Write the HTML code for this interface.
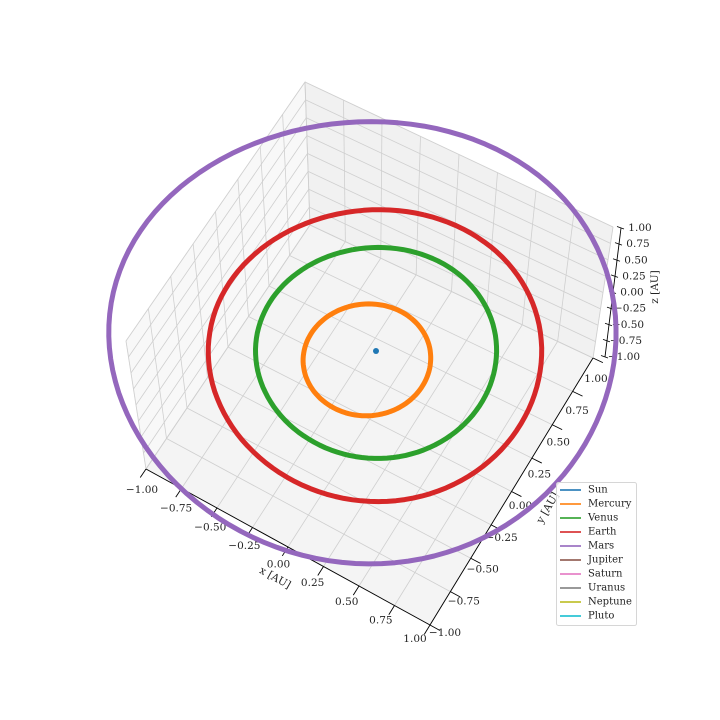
<!DOCTYPE html>
<html><head><meta charset="utf-8"><style>
html,body{margin:0;padding:0;background:#fff}
svg{display:block;font-family:"DejaVu Serif","Liberation Serif",serif}
</style></head><body>
<svg id="chart" width="720" height="720" viewBox="0 0 720 720" xmlns="http://www.w3.org/2000/svg">
<g id="panes"></g>
<g id="grid"></g>
<g id="axes"></g>
<g id="orbits"></g>
<g id="legend"></g>
</svg>
<script>
const tickValues = [-1, -0.75, -0.5, -0.25, 0, 0.25, 0.5, 0.75, 1];
const tickLabels = ["\u22121.00","\u22120.75","\u22120.50","\u22120.25","0.00","0.25","0.50","0.75","1.00"];
const planetNames = ["Sun","Mercury","Venus","Earth","Mars","Jupiter","Saturn","Uranus","Neptune","Pluto"];
const planetColors = ["#1f77b4","#ff7f0e","#2ca02c","#d62728","#9467bd","#8c564b","#e377c2","#7f7f7f","#bcbd22","#17becf"];
const orbitRadii = [0, 0.387, 0.723, 1.0, 1.524];
const orbitEcc = [0, 0.206, 0.007, 0.017, 0.08];
const orbitPeriDeg = [0, 77, 131, 103, -20];

const NS="http://www.w3.org/2000/svg";
function mk(tag, attrs, parent){const e=document.createElementNS(NS,tag);for(const k in attrs)e.setAttribute(k,attrs[k]);parent.appendChild(e);return e;}
const F={a:[146,469],b:[430,625],c:[593,358],d:[310,225]};
const D={a:[-20,-128],b:[7,-118],c:[20,-131],d:[-5,-143]};
function bil(Q,u,v){return [Q.a[0]*(1-u)*(1-v)+Q.b[0]*u*(1-v)+Q.c[0]*u*v+Q.d[0]*(1-u)*v,
                            Q.a[1]*(1-u)*(1-v)+Q.b[1]*u*(1-v)+Q.c[1]*u*v+Q.d[1]*(1-u)*v];}
function P(x,y,z){const u=(x+1)/2,v=(y+1)/2,w=(z+1)/2;const f=bil(F,u,v),d=bil(D,u,v);return [f[0]+d[0]*w,f[1]+d[1]*w];}
const P0=P(0,0,0);
const SUN=[376,351];
function PO(x,y){const p=P(x,y,0);return [SUN[0]+(p[0]-P0[0])*0.975, SUN[1]+(p[1]-P0[1])*0.965];}
function poly(pts){return pts.map(p=>p[0].toFixed(1)+","+p[1].toFixed(1)).join(" ");}

const panes=document.getElementById('panes');
let e;
e=mk('polygon',{points:poly([P(-1,-1,-1),P(-1,1,-1),P(-1,1,1),P(-1,-1,1)]),fill:"#f8f8f8",stroke:"#ececec","stroke-width":1},panes);


e=mk('polygon',{points:poly([P(-1,1,-1),P(1,1,-1),P(1,1,1),P(-1,1,1)]),fill:"#f1f1f1",stroke:"#ececec","stroke-width":1},panes);


e=mk('polygon',{points:poly([P(-1,-1,-1),P(1,-1,-1),P(1,1,-1),P(-1,1,-1)]),fill:"#f4f4f4",stroke:"#ececec","stroke-width":1},panes);



const grid=document.getElementById('grid');
function gl(p,q,name){const l=mk('line',{x1:p[0],y1:p[1],x2:q[0],y2:q[1],stroke:"#cfcfcf","stroke-width":0.8},grid);

}
tickValues.forEach(t=>{
  gl(P(t,-1,-1),P(t,1,-1),'floor-grid-x');
  gl(P(t,1,-1),P(t,1,1),'back-grid-x');
  gl(P(-1,t,-1),P(1,t,-1),'floor-grid-y');
  gl(P(-1,t,-1),P(-1,t,1),'side-grid-y');
  gl(P(-1,-1,t),P(-1,1,t),'side-grid-z');
  gl(P(-1,1,t),P(1,1,t),'back-grid-z');
});

const axes=document.getElementById('axes');
function al(p,q,name){const l=mk('line',{x1:p[0],y1:p[1],x2:q[0],y2:q[1],stroke:"#000","stroke-width":0.9},axes);

}
function txt(x,y,s,name,extra){const t=mk('text',Object.assign({x:x,y:y,"font-size":"10.5","text-anchor":"middle","dominant-baseline":"central",fill:"#222"},extra||{}),axes);t.textContent=s;

return t;}
al(P(-1,-1,-1),P(1,-1,-1),'x-axis-line');
al(P(1,-1,-1),P(1,1,-1),'y-axis-line');
const xl0=[142,490],xl1=[415,639];
tickValues.forEach((t,i)=>{
  al(P(t,-1.0,-1),P(t,-1.07,-1),'x-tick');
  const s=(t+1)/2;txt(xl0[0]+(xl1[0]-xl0[0])*s,xl0[1]+(xl1[1]-xl0[1])*s,tickLabels[i],'x-tick-label');
});
const yl0=[445,633],yl1=[596,379];
tickValues.forEach((t,i)=>{
  al(P(1,t,-1),P(1.07,t,-1),'y-tick');
  const s=(t+1)/2;txt(yl0[0]+(yl1[0]-yl0[0])*s,yl0[1]+(yl1[1]-yl0[1])*s,tickLabels[i],'y-tick-label');
});
const z0=[605,357],z1=[621,228];
function Z(t){const s=(t+1)/2;return [z0[0]+(z1[0]-z0[0])*s,z0[1]+(z1[1]-z0[1])*s];}
al(Z(-1),Z(1),'z-axis-line');
tickValues.forEach((t,i)=>{const p=Z(t);al([p[0]-4,p[1]-1.5],[p[0]+3,p[1]+1],'z-tick');
  txt(p[0]+19,p[1],tickLabels[i],'z-tick-label');});
txt(275,578,"x [AU]",'x-axis-title',{transform:"rotate(29 275 578)"});
txt(548,508,"y [AU]",'y-axis-title',{transform:"rotate(-60 548 508)"});
txt(655,287,"z [AU]",'z-axis-title',{transform:"rotate(-90 655 287)"});

const orb=document.getElementById('orbits');
for(let k=1;k<orbitRadii.length;k++){
  const a=orbitRadii[k],ec=orbitEcc[k],w=orbitPeriDeg[k]*Math.PI/180,b=a*Math.sqrt(1-ec*ec);
  const cx=-a*ec*Math.cos(w),cy=-a*ec*Math.sin(w),pts=[];
  for(let d=0;d<=360;d+=3){const th=d*Math.PI/180;const lx=a*Math.cos(th),ly=b*Math.sin(th);
    pts.push(PO(cx+lx*Math.cos(w)-ly*Math.sin(w),cy+lx*Math.sin(w)+ly*Math.cos(w)));}
  const pl=mk('polyline',{points:poly(pts),fill:"none",stroke:planetColors[k],"stroke-width":5,"stroke-linejoin":"round"},orb);
  
  
}
const sp=PO(0,0);
const sun=mk('circle',{cx:sp[0],cy:sp[1],r:3,fill:planetColors[0]},orb);



const lg=document.getElementById('legend');
const box=mk('rect',{x:556.5,y:482.5,width:80,height:143,rx:2,fill:"#fff","fill-opacity":0.8,stroke:"#d6d6d6","stroke-width":1},lg);


planetNames.forEach((n,i)=>{
  const y=490+i*14;
  const g=mk('g',{},lg);
  
  
  mk('line',{x1:560,y1:y,x2:581,y2:y,stroke:planetColors[i],"stroke-width":2,"stroke-opacity":0.8},g);
  const t=mk('text',{x:588,y:y,"font-size":"10","dominant-baseline":"central",fill:"#222"},g);
  t.textContent=n;
});
</script>
</body></html>
